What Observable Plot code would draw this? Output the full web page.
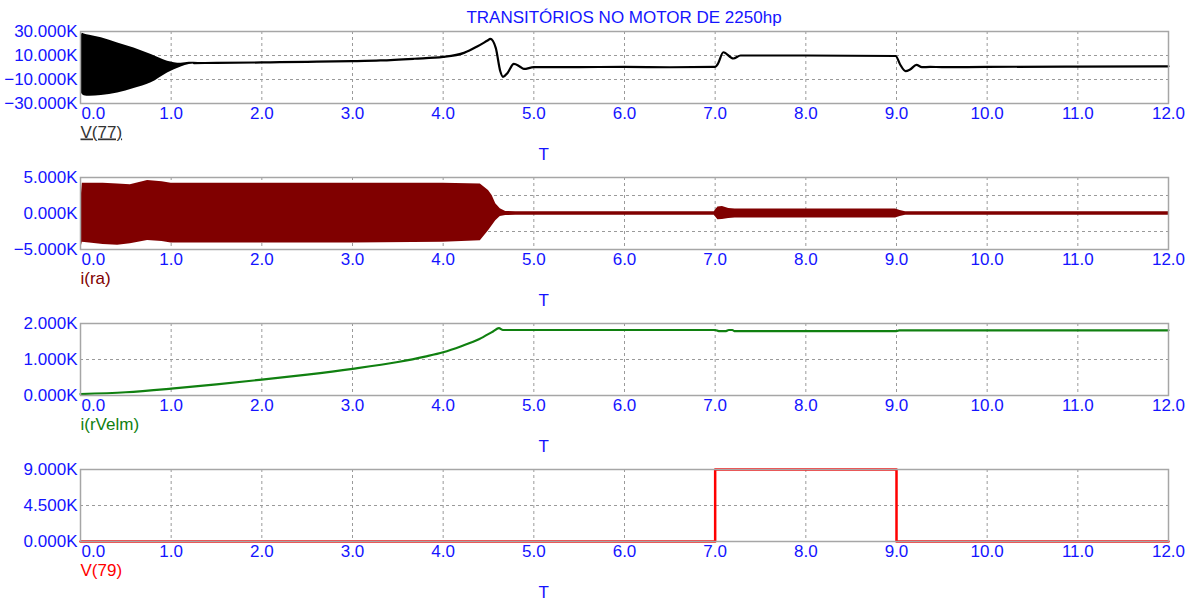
<!DOCTYPE html>
<html><head><meta charset="utf-8">
<script src="https://cdn.jsdelivr.net/npm/d3@7"></script>
<script src="https://cdn.jsdelivr.net/npm/@observablehq/plot@0.6"></script>
<style>
body{margin:0;background:#fff;overflow:hidden;font-family:"Liberation Sans",Arial,sans-serif}
#wrap{position:relative;width:1195px;height:600px;overflow:hidden;background:#fff}
#title{position:absolute;left:0;width:1248px;top:8px;text-align:center;color:#1414ff;font-size:17px;line-height:20px}
.panel{position:absolute;left:0}
</style></head><body><div id="wrap"><div id="title">TRANSITÓRIOS NO MOTOR DE 2250hp</div></div>
<script>
// ---------- Data (values in K) ----------
const xTicks = [0,1,2,3,4,5,6,7,8,9,10,11,12];

// Panel 1: V(77) — oscillation envelope and settled trace
const v77EnvT  = [0, 0.02, 0.04, 0.1, 0.23, 0.41, 0.59, 0.78, 0.96, 1.11, 1.2, 1.3];
const v77EnvHi = [22, 28.5, 28.0, 26.8, 24.7, 20.5, 16.3, 10.8, 5.3, 3.6, 4.3, 4.2];
const v77EnvLo = [-19, -22.5, -23.5, -24, -23.3, -21.2, -17.5, -12.8, -4.5, 0.5, 2.4, 3.2];
const v77T = [1.25, 1.5, 2.0, 2.2, 2.5, 3.0, 3.31, 3.68, 4.0, 4.23, 4.38, 4.49, 4.52, 4.58, 4.63, 4.66, 4.71, 4.78, 4.84, 4.89, 5.0, 5.5, 6.0, 6.5, 7.0, 7.03, 7.09, 7.2, 7.28, 8.0, 8.99, 9.04, 9.1, 9.15, 9.22, 9.28, 9.37, 9.5, 10, 11, 12];
const v77V = [3.7, 3.8, 4.2, 4.4, 4.7, 5.3, 5.9, 7.3, 8.8, 12.2, 17.7, 22.5, 23.8, 16.3, -3.1, -7.8, -4.5, 3.0, 1.1, -1.2, 0.25, 0.3, 0.5, 0.2, 0.5, 3.0, 12.7, 7.5, 10, 10, 9.6, 2.5, -3.1, -1.7, 2.2, 0.25, 0.5, 0.3, 0.5, 0.8, 1.0];
const v77Ticks = [-30, -10, 10, 30];
const v77Grid = [-10, 10];

// Panel 2: i(ra) — oscillation envelope
const iraT  = [0, 0.02, 0.1, 0.25, 0.41, 0.55, 0.74, 0.9, 1.0, 1.5, 2.0, 3.0, 4.0, 4.41, 4.5, 4.54, 4.58, 4.63, 4.69, 4.8, 6.99, 7.03, 7.08, 7.15, 7.22, 8.99, 9.04, 9.1, 12];
const iraHi = [1.0, 4.2, 4.2, 4.2, 4.1, 4.0, 4.6, 4.4, 4.2, 4.2, 4.2, 4.2, 4.2, 4.1, 3.2, 2.5, 1.35, 0.65, 0.28, 0.25, 0.25, 0.9, 0.97, 0.7, 0.62, 0.62, 0.4, 0.25, 0.25];
const iraLo = [-5, -4.0, -4.1, -4.3, -4.4, -4.2, -3.75, -3.9, -4.1, -4.1, -4.1, -4.1, -4.0, -3.8, -2.4, -1.7, -1.0, -0.4, -0.28, -0.25, -0.25, -0.88, -0.85, -0.7, -0.62, -0.62, -0.4, -0.25, -0.25];
const iraTicks = [-5, 0, 5];
const iraGrid = [-2.5, 2.5];

// Panel 3: i(rVelm)
const velT = [0, 0.5, 1.0, 1.5, 2.0, 2.5, 3.0, 3.5, 3.8, 4.0, 4.2, 4.4, 4.55, 4.615, 4.66, 5.0, 7.0, 7.04, 7.12, 7.15, 7.19, 7.21, 9.0, 9.03, 12];
const velV = [0.04, 0.09, 0.19, 0.31, 0.44, 0.58, 0.74, 0.93, 1.08, 1.2, 1.37, 1.57, 1.78, 1.87, 1.82, 1.82, 1.82, 1.79, 1.79, 1.82, 1.82, 1.79, 1.79, 1.81, 1.81];
const velTicks = [0, 1, 2];
const velGrid = [1];

// Panel 4: V(79)
const v79T = [0, 7, 9, 12];
const v79V = [0, 9, 0, 0];
const v79Ticks = [0, 4.5, 9];
const v79Grid = [4.5];

// ---------- Rendering ----------
const FONT = '"Liberation Sans", Arial, sans-serif';
const BLUE = "#1414ff";
const FS = 17;
const fmtY = d => d3.format(".3f")(d) + "K";
const fmtX = d3.format(".1f");

function panel(top, yDomain, yTicks, yGrid, marks, label, labelColor, underline) {
  const chart = Plot.plot({
    width: 1195, height: 146,
    marginLeft: 80, marginRight: 27, marginTop: 8, marginBottom: 66,
    style: {fontFamily: FONT, fontSize: FS + "px", background: "transparent", overflow: "visible"},
    x: {domain: [0, 12], label: null},
    y: {domain: yDomain, label: null},
    marks: [
      Plot.gridX(xTicks.slice(1, -1), {stroke: "#9a9a9a", strokeOpacity: 1, strokeDasharray: "3,3"}),
      Plot.gridY(yGrid, {stroke: "#9a9a9a", strokeOpacity: 1, strokeDasharray: "3,3"}),
      ...marks,
      Plot.frame({stroke: "#a6a6a6", strokeWidth: 1.5}),
      Plot.axisY(yTicks, {tickSize: 0, tickPadding: 3, tickFormat: fmtY, fill: BLUE, fontSize: FS, label: null}),
      Plot.axisX([0], {tickSize: 0, tickPadding: 3, textAnchor: "start", dx: 1, tickFormat: fmtX, fill: BLUE, fontSize: FS, label: null}),
      Plot.axisX(xTicks.slice(1), {tickSize: 0, tickPadding: 3, tickFormat: fmtX, fill: BLUE, fontSize: FS, label: null}),
      Plot.text([label], {text: d => d, frameAnchor: "bottom-left", dy: 34, fill: labelColor, fontSize: FS}),
      Plot.text(["T"], {text: d => d, frameAnchor: "bottom-left", dx: 458, dy: 56, fill: BLUE, fontSize: FS})
    ]
  });
  chart.classList.add("panel");
  chart.style.top = top + "px";
  if (underline) {
    chart.querySelectorAll("text").forEach(t => { if (t.textContent === label) t.style.textDecoration = "underline"; });
  }
  document.getElementById("wrap").appendChild(chart);
}

const env1 = v77EnvT.map((t, i) => ({t, hi: v77EnvHi[i], lo: v77EnvLo[i]}));
const line1 = v77T.map((t, i) => ({t, v: v77V[i]}));
panel(23, [-30, 30], v77Ticks, v77Grid, [
  Plot.areaY(env1, {x: "t", y1: "lo", y2: "hi", fill: "#000", curve: "monotone-x"}),
  Plot.line(line1, {x: "t", y: "v", stroke: "#000", strokeWidth: 2.2, curve: "monotone-x"})
], "V(77)", "#333", true);

const env2 = iraT.map((t, i) => ({t, hi: iraHi[i], lo: iraLo[i]}));
panel(169, [-5, 5], iraTicks, iraGrid, [
  Plot.areaY(env2, {x: "t", y1: "lo", y2: "hi", fill: "#800000"})
], "i(ra)", "#800000", false);

const line3 = velT.map((t, i) => ({t, v: velV[i]}));
panel(315, [0, 2], velTicks, velGrid, [
  Plot.line(line3, {x: "t", y: "v", stroke: "#108010", strokeWidth: 2.2, curve: "monotone-x"})
], "i(rVelm)", "#108010", false);

const line4 = v79T.map((t, i) => ({t, v: v79V[i]}));
panel(461, [0, 9], v79Ticks, v79Grid, [
  Plot.line(line4, {x: "t", y: "v", stroke: "#ff0000", strokeWidth: 2.5, curve: "step-after"})
], "V(79)", "#ff0000", false);
</script></body></html>
